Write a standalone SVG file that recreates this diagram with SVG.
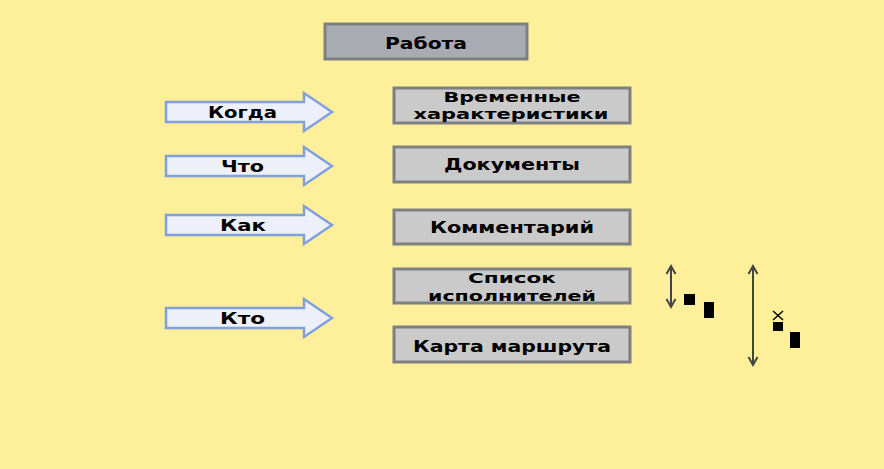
<svg xmlns="http://www.w3.org/2000/svg" width="884" height="469" viewBox="0 0 884 469">
<defs>
<style>
.box{fill:#cacaca;stroke:#7c8080;stroke-width:3}
.top{fill:#a9abb3;stroke:#7c8080;stroke-width:3}
.arr{fill:#eef0f9;stroke:#7f9fde;stroke-width:2.5}
.t{font-family:"DejaVu Sans",sans-serif;font-weight:bold;font-size:16.5px;fill:#000;text-anchor:middle}
.s{font-size:14.5px}
.v{stroke:#444;stroke-width:2;fill:none}
.g{fill:#000}
</style>
<marker id="ah" markerWidth="12" markerHeight="12" refX="9" refY="6" orient="auto-start-reverse" markerUnits="userSpaceOnUse">
<path d="M1,1.5 L9,6 L1,10.5" fill="none" stroke="#444" stroke-width="2"/>
</marker>
</defs>
<rect width="884" height="469" fill="#fef09b"/>
<g id="rabota"><rect class="top" x="325" y="24" width="202" height="35"/><text class="t" x="426" y="49" textLength="82" lengthAdjust="spacingAndGlyphs">Работа</text></g>
<g id="vremennye"><rect class="box" x="394" y="88" width="236" height="35"/><text class="t s" x="512" y="102" textLength="137" lengthAdjust="spacingAndGlyphs">Временные</text><text class="t s" x="511" y="119" textLength="195" lengthAdjust="spacingAndGlyphs">характеристики</text></g>
<g id="dokumenty"><rect class="box" x="394" y="147" width="236" height="35"/><text class="t" x="512" y="170" textLength="136" lengthAdjust="spacingAndGlyphs">Документы</text></g>
<g id="kommentariy"><rect class="box" x="394" y="210" width="236" height="34"/><text class="t" x="512" y="233" textLength="164" lengthAdjust="spacingAndGlyphs">Комментарий</text></g>
<g id="spisok"><rect class="box" x="394" y="269" width="236" height="34"/><text class="t s" x="512" y="283" textLength="88" lengthAdjust="spacingAndGlyphs">Список</text><text class="t s" x="512" y="301" textLength="168" lengthAdjust="spacingAndGlyphs">исполнителей</text></g>
<g id="karta"><rect class="box" x="394" y="327" width="236" height="35"/><text class="t" x="512" y="352" textLength="198" lengthAdjust="spacingAndGlyphs">Карта маршрута</text></g>
<g id="kogda"><path class="arr" d="M166,102 H304 V93 L332,112 L304,131 V122 H166 Z"/><text class="t" x="242.5" y="118" textLength="69" lengthAdjust="spacingAndGlyphs">Когда</text></g>
<g id="chto"><path class="arr" d="M166,156 H304 V147 L332,166 L304,185 V176 H166 Z"/><text class="t" x="242.5" y="172" textLength="43" lengthAdjust="spacingAndGlyphs">Что</text></g>
<g id="kak"><path class="arr" d="M166,215 H304 V206 L332,225 L304,244 V235 H166 Z"/><text class="t" x="243" y="231" textLength="46" lengthAdjust="spacingAndGlyphs">Как</text></g>
<g id="kto"><path class="arr" d="M166,308 H304 V299 L332,318 L304,337 V328 H166 Z"/><text class="t" x="242.5" y="324" textLength="45" lengthAdjust="spacingAndGlyphs">Кто</text></g>
<g id="connectors">
<line class="v" x1="671" y1="266" x2="671" y2="307" marker-start="url(#ah)" marker-end="url(#ah)"/>
<line class="v" x1="753" y1="266" x2="753" y2="365" marker-start="url(#ah)" marker-end="url(#ah)"/>
</g>
<g id="marks">
<rect class="g" x="684" y="294" width="11" height="11"/>
<rect class="g" x="704" y="302" width="10" height="16"/>
<rect class="g" x="773" y="322" width="10" height="9"/>
<path d="M773,311 L783,320 M783,311 L773,320" stroke="#000" stroke-width="1.5"/>
<rect class="g" x="790" y="332" width="10" height="16"/>
</g>
</svg>
